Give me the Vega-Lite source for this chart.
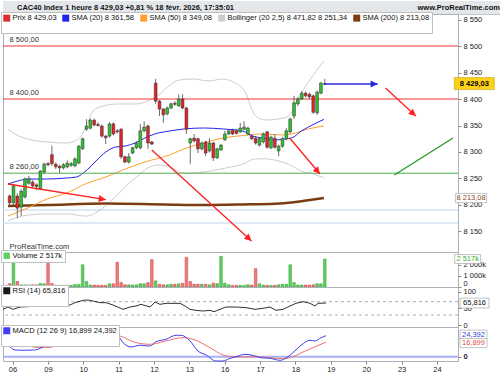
{
"$schema":"https://vega.github.io/schema/vega-lite/v6.json",
"padding":{"left":0,"top":0,"right":0,"bottom":14},"background":"white","spacing":0,"bounds":"flush",
"resolve":{"scale":{"color":"independent","fill":"independent"},"legend":{"color":"independent","fill":"independent"}},
"config":{"font":"Liberation Sans","view":{"stroke":"#a9b1ba"},
 "axis":{"labelFont":"Liberation Sans","labelFontSize":7.5,"labelColor":"#222","tickColor":"#888","tickSize":3,"domain":false,"grid":false,"labelPadding":2,"labelOverlap":false},
 "text":{"font":"Liberation Sans"}},
"datasets":{
"candles":[
{"i":-2,"o":8217,"h":8220,"l":8199,"c":8204,"v":300,"vd":"d"},
{"i":-1,"o":8204,"h":8240,"l":8200,"c":8236,"v":2900,"vd":"u"},
{"i":0,"o":8217,"h":8222,"l":8175,"c":8194,"v":500,"vd":"d"},
{"i":1,"o":8196,"h":8230,"l":8179,"c":8226,"v":200,"vd":"u"},
{"i":2,"o":8215,"h":8252,"l":8212,"c":8249,"v":200,"vd":"u"},
{"i":3,"o":8241,"h":8255,"l":8238,"c":8249,"v":180,"vd":"u"},
{"i":4,"o":8243,"h":8247,"l":8233,"c":8236,"v":200,"vd":"d"},
{"i":5,"o":8238,"h":8241,"l":8228,"c":8235,"v":200,"vd":"d"},
{"i":6,"o":8230,"h":8266,"l":8228,"c":8264,"v":320,"vd":"u"},
{"i":7,"o":8262,"h":8280,"l":8259,"c":8277,"v":290,"vd":"u"},
{"i":8,"o":8278,"h":8281,"l":8273,"c":8276,"v":2870,"vd":"d"},
{"i":9,"o":8295,"h":8312,"l":8274,"c":8278,"v":320,"vd":"d"},
{"i":10,"o":8277,"h":8280,"l":8268,"c":8272,"v":180,"vd":"d"},
{"i":11,"o":8273,"h":8276,"l":8260,"c":8270,"v":150,"vd":"d"},
{"i":12,"o":8270,"h":8279,"l":8267,"c":8276,"v":150,"vd":"u"},
{"i":13,"o":8272,"h":8284,"l":8269,"c":8279,"v":160,"vd":"u"},
{"i":14,"o":8275,"h":8281,"l":8272,"c":8278,"v":150,"vd":"u"},
{"i":15,"o":8274,"h":8290,"l":8271,"c":8287,"v":230,"vd":"u"},
{"i":16,"o":8279,"h":8313,"l":8277,"c":8311,"v":230,"vd":"u"},
{"i":17,"o":8306,"h":8327,"l":8304,"c":8325,"v":2000,"vd":"u"},
{"i":18,"o":8343,"h":8362,"l":8340,"c":8349,"v":490,"vd":"u"},
{"i":19,"o":8345,"h":8363,"l":8343,"c":8360,"v":180,"vd":"u"},
{"i":20,"o":8360,"h":8363,"l":8348,"c":8351,"v":180,"vd":"d"},
{"i":21,"o":8352,"h":8356,"l":8348,"c":8350,"v":150,"vd":"d"},
{"i":22,"o":8349,"h":8352,"l":8327,"c":8330,"v":160,"vd":"d"},
{"i":23,"o":8330,"h":8332,"l":8315,"c":8327,"v":150,"vd":"d"},
{"i":24,"o":8330,"h":8356,"l":8327,"c":8353,"v":290,"vd":"u"},
{"i":25,"o":8353,"h":8356,"l":8331,"c":8334,"v":290,"vd":"d"},
{"i":26,"o":8340,"h":8343,"l":8335,"c":8338,"v":2230,"vd":"d"},
{"i":27,"o":8343,"h":8345,"l":8287,"c":8291,"v":400,"vd":"d"},
{"i":28,"o":8291,"h":8293,"l":8279,"c":8281,"v":200,"vd":"d"},
{"i":29,"o":8281,"h":8298,"l":8278,"c":8291,"v":200,"vd":"u"},
{"i":30,"o":8298,"h":8310,"l":8296,"c":8308,"v":180,"vd":"u"},
{"i":31,"o":8308,"h":8320,"l":8305,"c":8317,"v":200,"vd":"u"},
{"i":32,"o":8308,"h":8353,"l":8305,"c":8340,"v":290,"vd":"u"},
{"i":33,"o":8340,"h":8358,"l":8337,"c":8347,"v":290,"vd":"u"},
{"i":34,"o":8349,"h":8352,"l":8306,"c":8317,"v":400,"vd":"d"},
{"i":35,"o":8319,"h":8321,"l":8313,"c":8315,"v":2460,"vd":"d"},
{"i":36,"o":8430,"h":8438,"l":8391,"c":8396,"v":550,"vd":"u"},
{"i":37,"o":8396,"h":8398,"l":8368,"c":8381,"v":250,"vd":"d"},
{"i":38,"o":8381,"h":8383,"l":8355,"c":8370,"v":200,"vd":"d"},
{"i":39,"o":8372,"h":8386,"l":8369,"c":8383,"v":200,"vd":"u"},
{"i":40,"o":8383,"h":8393,"l":8381,"c":8391,"v":250,"vd":"u"},
{"i":41,"o":8392,"h":8396,"l":8387,"c":8390,"v":250,"vd":"d"},
{"i":42,"o":8387,"h":8409,"l":8385,"c":8400,"v":280,"vd":"u"},
{"i":43,"o":8400,"h":8409,"l":8381,"c":8383,"v":340,"vd":"d"},
{"i":44,"o":8383,"h":8385,"l":8334,"c":8343,"v":2670,"vd":"d"},
{"i":45,"o":8317,"h":8327,"l":8277,"c":8325,"v":490,"vd":"d"},
{"i":46,"o":8326,"h":8334,"l":8318,"c":8321,"v":250,"vd":"d"},
{"i":47,"o":8325,"h":8327,"l":8298,"c":8306,"v":250,"vd":"d"},
{"i":48,"o":8306,"h":8320,"l":8303,"c":8317,"v":250,"vd":"u"},
{"i":49,"o":8319,"h":8321,"l":8292,"c":8298,"v":250,"vd":"d"},
{"i":50,"o":8302,"h":8326,"l":8299,"c":8317,"v":200,"vd":"u"},
{"i":51,"o":8317,"h":8319,"l":8283,"c":8289,"v":350,"vd":"d"},
{"i":52,"o":8289,"h":8308,"l":8287,"c":8306,"v":300,"vd":"u"},
{"i":53,"o":8304,"h":8315,"l":8302,"c":8313,"v":2760,"vd":"u"},
{"i":54,"o":8323,"h":8340,"l":8321,"c":8334,"v":350,"vd":"u"},
{"i":55,"o":8334,"h":8342,"l":8332,"c":8340,"v":200,"vd":"u"},
{"i":56,"o":8341,"h":8344,"l":8332,"c":8334,"v":150,"vd":"d"},
{"i":57,"o":8340,"h":8343,"l":8333,"c":8335,"v":150,"vd":"d"},
{"i":58,"o":8338,"h":8355,"l":8336,"c":8345,"v":150,"vd":"u"},
{"i":59,"o":8343,"h":8358,"l":8341,"c":8347,"v":150,"vd":"u"},
{"i":60,"o":8334,"h":8348,"l":8331,"c":8345,"v":200,"vd":"u"},
{"i":61,"o":8330,"h":8333,"l":8322,"c":8325,"v":180,"vd":"d"},
{"i":62,"o":8326,"h":8329,"l":8314,"c":8317,"v":1650,"vd":"d"},
{"i":63,"o":8313,"h":8328,"l":8310,"c":8325,"v":290,"vd":"u"},
{"i":64,"o":8319,"h":8337,"l":8316,"c":8334,"v":180,"vd":"u"},
{"i":65,"o":8338,"h":8340,"l":8306,"c":8309,"v":150,"vd":"d"},
{"i":66,"o":8308,"h":8331,"l":8305,"c":8328,"v":150,"vd":"u"},
{"i":67,"o":8326,"h":8334,"l":8306,"c":8309,"v":150,"vd":"d"},
{"i":68,"o":8302,"h":8314,"l":8292,"c":8311,"v":200,"vd":"u"},
{"i":69,"o":8311,"h":8328,"l":8308,"c":8325,"v":250,"vd":"u"},
{"i":70,"o":8325,"h":8345,"l":8322,"c":8340,"v":250,"vd":"u"},
{"i":71,"o":8338,"h":8365,"l":8335,"c":8362,"v":2000,"vd":"u"},
{"i":72,"o":8368,"h":8406,"l":8362,"c":8393,"v":400,"vd":"u"},
{"i":73,"o":8391,"h":8404,"l":8387,"c":8400,"v":180,"vd":"u"},
{"i":74,"o":8400,"h":8415,"l":8398,"c":8411,"v":180,"vd":"u"},
{"i":75,"o":8411,"h":8414,"l":8403,"c":8406,"v":180,"vd":"d"},
{"i":76,"o":8409,"h":8412,"l":8400,"c":8404,"v":180,"vd":"d"},
{"i":77,"o":8406,"h":8408,"l":8372,"c":8375,"v":200,"vd":"d"},
{"i":78,"o":8374,"h":8416,"l":8370,"c":8413,"v":290,"vd":"u"},
{"i":79,"o":8411,"h":8432,"l":8409,"c":8430,"v":290,"vd":"u"},
{"i":80,"o":8428,"h":8438,"l":8426,"c":8429.03,"v":2517,"vd":"u"}],
"sma20":[{"i":-2.42,"p":8239.6},{"i":0.13,"p":8245.3},{"i":2.67,"p":8249},{"i":7.76,"p":8249},{"i":12.85,"p":8251},{"i":15.39,"p":8252.8},{"i":17.18,"p":8260.4},{"i":19.21,"p":8273.6},{"i":20.48,"p":8283},{"i":23.03,"p":8300},{"i":25.57,"p":8309.4},{"i":28.12,"p":8311.3},{"i":30.66,"p":8317},{"i":33.21,"p":8326.4},{"i":35.75,"p":8334},{"i":39.57,"p":8339.6},{"i":43.38,"p":8343.4},{"i":48.47,"p":8345.3},{"i":53.56,"p":8343.4},{"i":58.65,"p":8339.6},{"i":61.2,"p":8330.2},{"i":63.74,"p":8326.4},{"i":67.05,"p":8322.6},{"i":69.59,"p":8324.5},{"i":71.37,"p":8326.4},{"i":73.92,"p":8339.6},{"i":77.23,"p":8352.8},{"i":79.77,"p":8361.58}],
"sma50":[{"i":-2.42,"p":8179.2},{"i":2.67,"p":8194.3},{"i":7.76,"p":8211.3},{"i":12.85,"p":8222.6},{"i":17.94,"p":8240.5},{"i":23.03,"p":8252.8},{"i":28.12,"p":8267.9},{"i":33.21,"p":8281.1},{"i":39.57,"p":8294.3},{"i":43.38,"p":8305.7},{"i":48.47,"p":8317},{"i":53.56,"p":8326.4},{"i":58.65,"p":8331.1},{"i":63.74,"p":8334},{"i":68.83,"p":8332.1},{"i":71.37,"p":8334},{"i":75.7,"p":8343.4},{"i":79.77,"p":8349.08}],
"sma200":[{"i":-2.42,"p":8198.1},{"i":7.76,"p":8200},{"i":23.03,"p":8202.8},{"i":38.3,"p":8201},{"i":48.47,"p":8200},{"i":58.65,"p":8201},{"i":67.05,"p":8202.4},{"i":71.37,"p":8204.7},{"i":75.19,"p":8208.5},{"i":79.77,"p":8213.08}],
"boll":[{"i":-2.42,"p":8343.4,"b":"u"},{"i":-0.64,"p":8334,"b":"u"},{"i":2.67,"p":8324.5,"b":"u"},{"i":7.76,"p":8318.9,"b":"u"},{"i":12.85,"p":8317,"b":"u"},{"i":15.9,"p":8324.5,"b":"u"},{"i":17.94,"p":8349,"b":"u"},{"i":19.72,"p":8377.4,"b":"u"},{"i":22.26,"p":8386.8,"b":"u"},{"i":26.34,"p":8390.6,"b":"u"},{"i":30.66,"p":8390.6,"b":"u"},{"i":33.97,"p":8396.2,"b":"u"},{"i":36.51,"p":8405.7,"b":"u"},{"i":39.06,"p":8422.6,"b":"u"},{"i":42.11,"p":8435.9,"b":"u"},{"i":45.93,"p":8437.7,"b":"u"},{"i":49.75,"p":8434,"b":"u"},{"i":53.56,"p":8437.7,"b":"u"},{"i":56.62,"p":8430.2,"b":"u"},{"i":59.16,"p":8415.1,"b":"u"},{"i":61.96,"p":8368,"b":"u"},{"i":64.5,"p":8360.4,"b":"u"},{"i":68.07,"p":8362.3,"b":"u"},{"i":70.61,"p":8368,"b":"u"},{"i":73.16,"p":8401.9,"b":"u"},{"i":76.46,"p":8439.6,"b":"u"},{"i":79.77,"p":8471.82,"b":"u"},
{"i":-2.42,"p":8170,"b":"l"},{"i":2.67,"p":8181,"b":"l"},{"i":7.76,"p":8183,"b":"l"},{"i":12.85,"p":8183,"b":"l"},{"i":17.94,"p":8179,"b":"l"},{"i":21.25,"p":8189,"b":"l"},{"i":23.79,"p":8204,"b":"l"},{"i":26.34,"p":8221,"b":"l"},{"i":28.88,"p":8240,"b":"l"},{"i":31.42,"p":8255,"b":"l"},{"i":33.97,"p":8270,"b":"l"},{"i":36.51,"p":8275.5,"b":"l"},{"i":39.06,"p":8273.6,"b":"l"},{"i":41.6,"p":8264,"b":"l"},{"i":44.15,"p":8260,"b":"l"},{"i":50.25,"p":8264,"b":"l"},{"i":54.33,"p":8270,"b":"l"},{"i":58.65,"p":8277,"b":"l"},{"i":61.96,"p":8287,"b":"l"},{"i":64.5,"p":8287,"b":"l"},{"i":68.07,"p":8283,"b":"l"},{"i":70.61,"p":8277,"b":"l"},{"i":73.92,"p":8264,"b":"l"},{"i":76.97,"p":8258.5,"b":"l"},{"i":79.77,"p":8251.34,"b":"l"}],
"levels":[{"p":8500,"t":"8 500,00","k":"r"},{"p":8400,"t":"8 400,00","k":"r"},{"p":8260,"t":"8 260,00","k":"g"}],
"arrows":[{"id":"r1","x1":-2.42,"p1":8239.6,"x2":23.03,"p2":8210},{"id":"r2","x1":34.99,"p1":8303.8,"x2":60.94,"p2":8132.1},{"id":"r3","x1":70.87,"p1":8326.4,"x2":78.75,"p2":8258.5},{"id":"b1","x1":79.77,"p1":8428.3,"x2":93.77,"p2":8428.3},{"id":"r5","x1":95.8,"p1":8420.8,"x2":103.69,"p2":8367.9},{"id":"g1","x1":98.1,"p1":8256.6,"x2":113.36,"p2":8326.4}],
"rsi":[{"i":-2.42,"r":47},{"i":-1.15,"r":54},{"i":0.13,"r":47},{"i":1.91,"r":54},{"i":3.94,"r":55},{"i":5.98,"r":60},{"i":10.31,"r":60},{"i":14.63,"r":60},{"i":15.9,"r":67},{"i":17.94,"r":74},{"i":19.21,"r":75},{"i":20.48,"r":72},{"i":22.26,"r":67},{"i":23.79,"r":67},{"i":25.57,"r":60},{"i":28.12,"r":47},{"i":29.9,"r":54},{"i":31.42,"r":57},{"i":32.7,"r":62},{"i":34.99,"r":54},{"i":36.26,"r":69},{"i":37.53,"r":62},{"i":39.06,"r":65},{"i":42.62,"r":65},{"i":43.89,"r":57},{"i":45.17,"r":47},{"i":46.69,"r":44},{"i":48.47,"r":42},{"i":50.25,"r":44},{"i":51.27,"r":40},{"i":52.8,"r":47},{"i":54.33,"r":54},{"i":56.87,"r":54},{"i":59.41,"r":52},{"i":61.7,"r":47},{"i":63.74,"r":50},{"i":65.52,"r":54},{"i":67.05,"r":44},{"i":68.83,"r":47},{"i":70.61,"r":57},{"i":72.14,"r":65},{"i":73.92,"r":70},{"i":75.7,"r":65},{"i":76.97,"r":57},{"i":77.74,"r":65},{"i":79.77,"r":65.816}],
"macd":[{"i":-2.42,"m":16.3},{"i":-1.15,"m":13.6},{"i":0.56,"m":7.8},{"i":2.67,"m":7.4},{"i":5.65,"m":7.8},{"i":7.76,"m":11.3},{"i":9.03,"m":14.4},{"i":11.07,"m":15.6},{"i":14.63,"m":15.6},{"i":16.16,"m":18.3},{"i":17.43,"m":22},{"i":19.21,"m":26},{"i":21.76,"m":28},{"i":24.3,"m":28},{"i":26.84,"m":24},{"i":28.12,"m":16.3},{"i":30.15,"m":11.3},{"i":32.44,"m":13.3},{"i":34.99,"m":12.4},{"i":36.51,"m":17.4},{"i":39.06,"m":20.2},{"i":41.6,"m":24.9},{"i":42.88,"m":24.9},{"i":45.17,"m":18.3},{"i":47.2,"m":6.6},{"i":49.24,"m":2},{"i":51.78,"m":-5},{"i":53.56,"m":-5},{"i":55.34,"m":-1.9},{"i":56.87,"m":0},{"i":59.16,"m":2.8},{"i":60.69,"m":2},{"i":63.23,"m":-1.2},{"i":65.52,"m":-1.9},{"i":68.07,"m":-4.2},{"i":69.34,"m":-2.3},{"i":71.37,"m":4.7},{"i":73.41,"m":13.3},{"i":75.7,"m":19.1},{"i":76.97,"m":18.3},{"i":78.5,"m":22.1},{"i":79.77,"m":24.392}],
"signal":[{"i":-2.42,"s":22},{"i":-0.71,"s":21},{"i":1.83,"s":16.3},{"i":5.22,"s":11.3},{"i":8.6,"s":10.5},{"i":12.0,"s":13.3},{"i":16.24,"s":15.1},{"i":19.21,"s":21},{"i":23.03,"s":24},{"i":25.57,"s":25},{"i":27.35,"s":24},{"i":30.66,"s":17.4},{"i":34.99,"s":14.4},{"i":39.06,"s":18.3},{"i":43.38,"s":22.1},{"i":45.93,"s":20.2},{"i":50.25,"s":10.5},{"i":53.56,"s":2},{"i":56.87,"s":-0.3},{"i":61.96,"s":0},{"i":65.52,"s":-1.2},{"i":68.83,"s":-2.3},{"i":71.37,"s":0},{"i":73.92,"s":5.5},{"i":76.46,"s":10.5},{"i":79.77,"s":16.899}]
},
"vconcat":[
{"width":500,"height":13,"view":{"fill":"#e4e7ea","stroke":"#c2c8ce"},
 "layer":[
  {"data":{"values":[{"from":"L","to":"R"}]},"mark":{"type":"rect","color":"#e4e7ea"},
   "encoding":{"x":{"field":"from","type":"nominal","scale":{"type":"point","domain":["L","R"],"padding":0},"axis":null},"x2":{"field":"to"}}},
  {"data":{"values":[{"side":"L","t":"CAC40 Index 1 heure 8 429,03 +0,81 % 18 févr. 2026, 17:35:01"}]},"mark":{"type":"text","align":"left","dx":14,"fontSize":7.5,"fontWeight":"bold","color":"#111"},
   "encoding":{"x":{"field":"side","type":"nominal","scale":{"type":"point","domain":["L","R"],"padding":0},"axis":null},"text":{"field":"t"}}},
  {"data":{"values":[{"side":"R","t":"www.ProRealTime.com"}]},"mark":{"type":"text","align":"right","dx":-3,"fontSize":7.5,"fontWeight":"bold","color":"#111"},
   "encoding":{"x":{"field":"side","type":"nominal","scale":{"type":"point","domain":["L","R"],"padding":0},"axis":null},"text":{"field":"t"}}}
 ]},
{"width":455,"height":238,
 "layer":[
  {"data":{"values":[{"p":8190.6},{"p":8166.1}]},"mark":{"type":"rule","color":"#d3e1f5","strokeWidth":1.6},
   "encoding":{"y":{"field":"p","type":"quantitative","title":null,"scale":{"domain":[8111.3,8560.4],"nice":false,"zero":false},
     "axis":{"orient":"right","title":null,"labelOverlap":false,"values":[8150,8200,8250,8300,8350,8400,8450,8500,8550],"labelExpr":"replace(format(datum.value, ','), ',', ' ')"}}}},
  {"data":{"name":"boll"},"mark":{"type":"line","strokeWidth":1,"interpolate":"monotone"},
   "encoding":{"x":{"field":"i","type":"quantitative","scale":{"domain":[-2.42,113.36],"nice":false,"zero":false},"axis":null},
    "y":{"field":"p","type":"quantitative","title":null,"scale":{"domain":[8111.3,8560.4],"nice":false,"zero":false},"axis":{"orient":"right","title":null,"labelOverlap":false,"values":[8150,8200,8250,8300,8350,8400,8450,8500,8550],"labelExpr":"replace(format(datum.value, ','), ',', ' ')"}},
    "detail":{"field":"b","type":"nominal"},
    "color":{"datum":"Bollinger (20 2,5) 8 471,82 8 251,34","scale":{"domain":["Prix 8 429,03","SMA (20) 8 361,58","SMA (50) 8 349,08","Bollinger (20 2,5) 8 471,82 8 251,34","SMA (200) 8 213,08"],"range":["#d83030","#2323ee","#ffa02e","#cdcdcd","#7a3d12"]},
     "legend":{"orient":"top-left","direction":"horizontal","title":null,"offset":-2,"padding":2,"fillColor":"#ffffff","strokeColor":"#c0c0c0","labelFontSize":7.5,"labelFont":"Liberation Sans","labelColor":"#111","labelOffset":2,"columnPadding":-4,"labelLimit":300,"symbolType":"square","symbolStrokeWidth":6,"symbolSize":1}}}},
  {"data":{"name":"sma200"},"mark":{"type":"line","strokeWidth":2.5,"interpolate":"monotone"},
   "encoding":{"x":{"field":"i","type":"quantitative","axis":null},"y":{"field":"p","type":"quantitative","title":null,"axis":{"orient":"right","title":null,"labelOverlap":false,"values":[8150,8200,8250,8300,8350,8400,8450,8500,8550],"labelExpr":"replace(format(datum.value, ','), ',', ' ')"}},"color":{"datum":"SMA (200) 8 213,08"}}},
  {"data":{"name":"sma50"},"mark":{"type":"line","strokeWidth":1,"interpolate":"monotone"},
   "encoding":{"x":{"field":"i","type":"quantitative","axis":null},"y":{"field":"p","type":"quantitative","title":null,"axis":{"orient":"right","title":null,"labelOverlap":false,"values":[8150,8200,8250,8300,8350,8400,8450,8500,8550],"labelExpr":"replace(format(datum.value, ','), ',', ' ')"}},"color":{"datum":"SMA (50) 8 349,08"}}},
  {"data":{"name":"sma20"},"mark":{"type":"line","strokeWidth":1,"interpolate":"monotone"},
   "encoding":{"x":{"field":"i","type":"quantitative","axis":null},"y":{"field":"p","type":"quantitative","title":null,"axis":{"orient":"right","title":null,"labelOverlap":false,"values":[8150,8200,8250,8300,8350,8400,8450,8500,8550],"labelExpr":"replace(format(datum.value, ','), ',', ' ')"}},"color":{"datum":"SMA (20) 8 361,58"}}},
  {"data":{"name":"levels"},"mark":{"type":"rule","strokeWidth":1},
   "encoding":{"y":{"field":"p","type":"quantitative","title":null,"axis":{"orient":"right","title":null,"labelOverlap":false,"values":[8150,8200,8250,8300,8350,8400,8450,8500,8550],"labelExpr":"replace(format(datum.value, ','), ',', ' ')"}},"color":{"condition":{"test":"datum.k == 'r'","value":"#f03535"},"value":"#4caf50"}}},
  {"data":{"name":"levels"},"mark":{"type":"text","align":"left","baseline":"bottom","dy":-2,"fontSize":7.5,"color":"#333"},
   "encoding":{"x":{"datum":-2.0,"axis":null},"y":{"field":"p","type":"quantitative","title":null,"axis":{"orient":"right","title":null,"labelOverlap":false,"values":[8150,8200,8250,8300,8350,8400,8450,8500,8550],"labelExpr":"replace(format(datum.value, ','), ',', ' ')"}},"text":{"field":"t"}}},
  {"data":{"name":"candles"},"mark":{"type":"rule","color":"#4a4a4a","strokeWidth":0.8},
   "encoding":{"x":{"field":"i","type":"quantitative","axis":null},"y":{"field":"l","type":"quantitative","title":null,"axis":{"orient":"right","title":null,"labelOverlap":false,"values":[8150,8200,8250,8300,8350,8400,8450,8500,8550],"labelExpr":"replace(format(datum.value, ','), ',', ' ')"}},"y2":{"field":"h"}}},
  {"data":{"name":"candles"},"mark":{"type":"bar","width":2.8,"stroke":"#2a2a2a","strokeWidth":0.5},
   "encoding":{"x":{"field":"i","type":"quantitative","axis":null},"y":{"field":"o","type":"quantitative","title":null,"axis":{"orient":"right","title":null,"labelOverlap":false,"values":[8150,8200,8250,8300,8350,8400,8450,8500,8550],"labelExpr":"replace(format(datum.value, ','), ',', ' ')"}},"y2":{"field":"c"},
    "fill":{"condition":{"test":"datum.c >= datum.o","value":"#2fc22f"},"value":"#e3242b"}}},
  {"data":{"name":"arrows"},"transform":[{"filter":"datum.id[0] == 'r'"}],"mark":{"type":"rule","color":"#ff1f1f","strokeWidth":1.3},
   "encoding":{"x":{"field":"x1","type":"quantitative","axis":null},"x2":{"field":"x2"},"y":{"field":"p1","type":"quantitative","title":null,"axis":{"orient":"right","title":null,"labelOverlap":false,"values":[8150,8200,8250,8300,8350,8400,8450,8500,8550],"labelExpr":"replace(format(datum.value, ','), ',', ' ')"}},"y2":{"field":"p2"}}},
  {"data":{"name":"arrows"},"transform":[{"filter":"datum.id == 'b1'"}],"mark":{"type":"rule","color":"#2b2bdb","strokeWidth":1.3},
   "encoding":{"x":{"field":"x1","type":"quantitative","axis":null},"x2":{"field":"x2"},"y":{"field":"p1","type":"quantitative","title":null,"axis":{"orient":"right","title":null,"labelOverlap":false,"values":[8150,8200,8250,8300,8350,8400,8450,8500,8550],"labelExpr":"replace(format(datum.value, ','), ',', ' ')"}},"y2":{"field":"p2"}}},
  {"data":{"name":"arrows"},"transform":[{"filter":"datum.id == 'g1'"}],"mark":{"type":"rule","color":"#1f9a1f","strokeWidth":1.3},
   "encoding":{"x":{"field":"x1","type":"quantitative","axis":null},"x2":{"field":"x2"},"y":{"field":"p1","type":"quantitative","title":null,"axis":{"orient":"right","title":null,"labelOverlap":false,"values":[8150,8200,8250,8300,8350,8400,8450,8500,8550],"labelExpr":"replace(format(datum.value, ','), ',', ' ')"}},"y2":{"field":"p2"}}},
  {"data":{"name":"arrows"},"transform":[{"filter":"datum.id[0] != 'g'"}],"mark":{"type":"point","shape":"M0,0L-1,-0.5L-1,0.5Z","size":200,"filled":true,"opacity":1},
   "encoding":{"x":{"field":"x2","type":"quantitative","axis":null},"y":{"field":"p2","type":"quantitative","title":null,"axis":{"orient":"right","title":null,"labelOverlap":false,"values":[8150,8200,8250,8300,8350,8400,8450,8500,8550],"labelExpr":"replace(format(datum.value, ','), ',', ' ')"}},
    "color":{"condition":{"test":"datum.id == 'b1'","value":"#2b2bdb"},"value":"#ff1f1f"},
    "angle":{"condition":[{"test":"datum.id == 'r1'","value":9},{"test":"datum.id == 'r2'","value":42},{"test":"datum.id == 'r3'","value":49},{"test":"datum.id == 'r5'","value":42}],"value":0}}},
  {"data":{"values":[{"p":8429.03,"t":"8 429,03"}]},"mark":{"type":"point","shape":"M-1,-0.3H1V0.3H-1Z","size":1600,"filled":true,"fill":"#ffd21a","stroke":"#b89400","strokeWidth":0.5,"opacity":1},
   "encoding":{"x":{"datum":118.9,"axis":null},"y":{"field":"p","type":"quantitative","title":null,"axis":{"orient":"right","title":null,"labelOverlap":false,"values":[8150,8200,8250,8300,8350,8400,8450,8500,8550],"labelExpr":"replace(format(datum.value, ','), ',', ' ')"}}}},
  {"data":{"values":[{"p":8429.03,"t":"8 429,03"}]},"mark":{"type":"text","fontSize":7.5,"fontWeight":"bold","color":"#000"},
   "encoding":{"x":{"datum":118.9,"axis":null},"y":{"field":"p","type":"quantitative","title":null,"axis":{"orient":"right","title":null,"labelOverlap":false,"values":[8150,8200,8250,8300,8350,8400,8450,8500,8550],"labelExpr":"replace(format(datum.value, ','), ',', ' ')"}},"text":{"field":"t"}}},
  {"data":{"values":[{"p":8213.08,"t":"8 213,08"}]},"mark":{"type":"point","shape":"M-1,-0.3H1V0.3H-1Z","size":961,"filled":true,"fill":"#ffffff","stroke":"#9a9a9a","strokeWidth":0.6,"opacity":1},
   "encoding":{"x":{"datum":118.07,"axis":null},"y":{"field":"p","type":"quantitative","title":null,"axis":{"orient":"right","title":null,"labelOverlap":false,"values":[8150,8200,8250,8300,8350,8400,8450,8500,8550],"labelExpr":"replace(format(datum.value, ','), ',', ' ')"}}}},
  {"data":{"values":[{"p":8213.08,"t":"8 213,08"}]},"mark":{"type":"text","fontSize":7.5,"color":"#8a4a1f"},
   "encoding":{"x":{"datum":118.07,"axis":null},"y":{"field":"p","type":"quantitative","title":null,"axis":{"orient":"right","title":null,"labelOverlap":false,"values":[8150,8200,8250,8300,8350,8400,8450,8500,8550],"labelExpr":"replace(format(datum.value, ','), ',', ' ')"}},"text":{"field":"t"}}},
  {"data":{"values":[{"p":8121,"t":"ProRealTime.com"}]},"mark":{"type":"text","align":"left","fontSize":7.5,"color":"#333"},
   "encoding":{"x":{"datum":-2.0,"axis":null},"y":{"field":"p","type":"quantitative","title":null,"axis":{"orient":"right","title":null,"labelOverlap":false,"values":[8150,8200,8250,8300,8350,8400,8450,8500,8550],"labelExpr":"replace(format(datum.value, ','), ',', ' ')"}},"text":{"field":"t"}}}
 ]},
{"width":455,"height":35,
 "layer":[
  {"data":{"name":"candles"},"mark":{"type":"bar","width":2.6,"strokeWidth":0.5},
   "encoding":{"x":{"field":"i","type":"quantitative","scale":{"domain":[-2.42,113.36],"nice":false,"zero":false},"axis":null},
    "y":{"field":"v","type":"quantitative","title":null,"stack":null,"scale":{"domain":[0,3150],"nice":false},
     "axis":{"orient":"right","title":null,"labelOverlap":false,"values":[0,1000,2000],"labelFlush":true,"labelExpr":"datum.value == 0 ? '0' : replace(format(datum.value, ','), ',', ' ') + 'k'"}},
    "fill":{"field":"vd","type":"nominal","scale":{"domain":["u","d"],"range":["#5fcf5f","#ee7d7d"]},
     "legend":{"orient":"top-left","direction":"horizontal","title":null,"offset":-2,"padding":2,"fillColor":"#ffffff","strokeColor":"#c0c0c0","labelFontSize":7.5,"labelFont":"Liberation Sans","labelColor":"#111","labelOffset":2,"values":["u"],"labelExpr":"'Volume 2 517k'","symbolType":"square","symbolSize":40,"symbolStrokeWidth":0}},
    "stroke":{"condition":{"test":"datum.vd == 'u'","value":"#2f9a2f"},"value":"#cc3b3b"}}},
  {"data":{"values":[{"v":2517,"t":"2 517k"}]},"mark":{"type":"point","shape":"M-1,-0.34H1V0.34H-1Z","size":676,"filled":true,"fill":"#ffffff","stroke":"#9a9a9a","strokeWidth":0.6,"opacity":1},
   "encoding":{"x":{"datum":117.18,"axis":null},"y":{"field":"v","type":"quantitative","title":null,"axis":{"orient":"right","title":null,"labelOverlap":false,"values":[0,1000,2000],"labelFlush":true,"labelExpr":"datum.value == 0 ? '0' : replace(format(datum.value, ','), ',', ' ') + 'k'"}}}},
  {"data":{"values":[{"v":2517,"t":"2 517k"}]},"mark":{"type":"text","fontSize":7.5,"color":"#3caa3c"},
   "encoding":{"x":{"datum":117.18,"axis":null},"y":{"field":"v","type":"quantitative","title":null,"axis":{"orient":"right","title":null,"labelOverlap":false,"values":[0,1000,2000],"labelFlush":true,"labelExpr":"datum.value == 0 ? '0' : replace(format(datum.value, ','), ',', ' ') + 'k'"}},"text":{"field":"t"}}}
 ]},
{"width":455,"height":40,
 "layer":[
  {"data":{"values":[{"v":70},{"v":30}]},"mark":{"type":"rule","strokeDash":[3,3],"color":"#9a9a9a","strokeWidth":0.8},
   "encoding":{"y":{"field":"v","type":"quantitative","title":null,"scale":{"domain":[-6,114],"nice":false,"zero":false},
     "axis":{"orient":"right","title":null,"labelOverlap":false,"values":[0,50,100]}}}},
  {"data":{"name":"rsi"},"mark":{"type":"line","strokeWidth":0.9},
   "encoding":{"x":{"field":"i","type":"quantitative","scale":{"domain":[-2.42,113.36],"nice":false,"zero":false},"axis":null},
    "y":{"field":"r","type":"quantitative","title":null,"axis":{"orient":"right","title":null,"labelOverlap":false,"values":[0,50,100]}},
    "color":{"datum":"RSI (14) 65,816","scale":{"domain":["RSI (14) 65,816"],"range":["#1a1a1a"]},
     "legend":{"orient":"top-left","direction":"horizontal","title":null,"offset":-2,"padding":2,"fillColor":"#ffffff","strokeColor":"#c0c0c0","labelFontSize":7.5,"labelFont":"Liberation Sans","labelColor":"#111","labelOffset":2,"symbolType":"square","symbolStrokeWidth":6,"symbolSize":1}}}},
  {"data":{"values":[{"v":65.816,"t":"65,816"}]},"mark":{"type":"point","shape":"M-1,-0.34H1V0.34H-1Z","size":841,"filled":true,"fill":"#ffffff","stroke":"#9a9a9a","strokeWidth":0.6,"opacity":1},
   "encoding":{"x":{"datum":117.56,"axis":null},"y":{"field":"v","type":"quantitative","title":null,"axis":{"orient":"right","title":null,"labelOverlap":false,"values":[0,50,100]}}}},
  {"data":{"values":[{"v":65.816,"t":"65,816"}]},"mark":{"type":"text","fontSize":7.5,"color":"#111"},
   "encoding":{"x":{"datum":117.56,"axis":null},"y":{"field":"v","type":"quantitative","title":null,"axis":{"orient":"right","title":null,"labelOverlap":false,"values":[0,50,100]}},"text":{"field":"t"}}}
 ]},
{"width":455,"height":34,
 "layer":[
  {"data":{"values":[{"v":0}]},"mark":{"type":"rule","color":"#aab0f5","strokeWidth":2},
   "encoding":{"y":{"field":"v","type":"quantitative","title":null,"scale":{"domain":[-5,34.5],"nice":false,"zero":false},
     "axis":{"orient":"right","title":null,"labelOverlap":false,"values":[0],"labelFontWeight":"bold"}}}},
  {"data":{"name":"signal"},"mark":{"type":"line","strokeWidth":1,"color":"#f07070","interpolate":"monotone"},
   "encoding":{"x":{"field":"i","type":"quantitative","title":null,"scale":{"domain":[-2.42,113.36],"nice":false,"zero":false},
     "axis":{"orient":"bottom","title":null,"labelOverlap":false,"values":[0,9,18,27,36,45,54,63,72,81,90,99,108],"labelExpr":"['06','09','10','11','12','13','16','17','18','19','20','23','24'][round(datum.value/9)]","labelPadding":1}},
    "y":{"field":"s","type":"quantitative","title":null,"axis":{"orient":"right","title":null,"labelOverlap":false,"values":[0],"labelFontWeight":"bold"}}}},
  {"data":{"name":"macd"},"mark":{"type":"line","strokeWidth":1,"interpolate":"monotone"},
   "encoding":{"x":{"field":"i","type":"quantitative","title":null,
     "axis":{"orient":"bottom","title":null,"labelOverlap":false,"values":[0,9,18,27,36,45,54,63,72,81,90,99,108],"labelExpr":"['06','09','10','11','12','13','16','17','18','19','20','23','24'][round(datum.value/9)]","labelPadding":1}},
    "y":{"field":"m","type":"quantitative","title":null,"axis":{"orient":"right","title":null,"labelOverlap":false,"values":[0],"labelFontWeight":"bold"}},
    "color":{"datum":"MACD (12 26 9) 16,899 24,392","scale":{"domain":["MACD (12 26 9) 16,899 24,392"],"range":["#4040ee"]},
     "legend":{"orient":"top-left","direction":"horizontal","title":null,"offset":-2,"padding":2,"fillColor":"#ffffff","strokeColor":"#c0c0c0","labelFontSize":7.5,"labelFont":"Liberation Sans","labelColor":"#111","labelOffset":2,"symbolType":"square","symbolStrokeWidth":6,"symbolSize":1}}}},
  {"data":{"values":[{"v":25.5,"t":"24,392"},{"v":15.8,"t":"16,899"}]},"mark":{"type":"point","shape":"M-1,-0.34H1V0.34H-1Z","size":729,"filled":true,"fill":"#ffffff","stroke":"#9a9a9a","strokeWidth":0.6,"opacity":1},
   "encoding":{"x":{"datum":117.3,"title":null,
     "axis":{"orient":"bottom","title":null,"labelOverlap":false,"values":[0,9,18,27,36,45,54,63,72,81,90,99,108],"labelExpr":"['06','09','10','11','12','13','16','17','18','19','20','23','24'][round(datum.value/9)]","labelPadding":1}},
    "y":{"field":"v","type":"quantitative","title":null,"axis":{"orient":"right","title":null,"labelOverlap":false,"values":[0],"labelFontWeight":"bold"}}}},
  {"data":{"values":[{"v":25.5,"t":"24,392","k":"m"},{"v":15.8,"t":"16,899","k":"s"}]},"mark":{"type":"text","fontSize":7.5},
   "encoding":{"x":{"datum":117.3,"title":null,
     "axis":{"orient":"bottom","title":null,"labelOverlap":false,"values":[0,9,18,27,36,45,54,63,72,81,90,99,108],"labelExpr":"['06','09','10','11','12','13','16','17','18','19','20','23','24'][round(datum.value/9)]","labelPadding":1}},
    "y":{"field":"v","type":"quantitative","title":null,"axis":{"orient":"right","title":null,"labelOverlap":false,"values":[0],"labelFontWeight":"bold"}},"text":{"field":"t"},
    "color":{"condition":{"test":"datum.k == 'm'","value":"#3a3ae0"},"value":"#e05050"}}}
 ]}
]
}
